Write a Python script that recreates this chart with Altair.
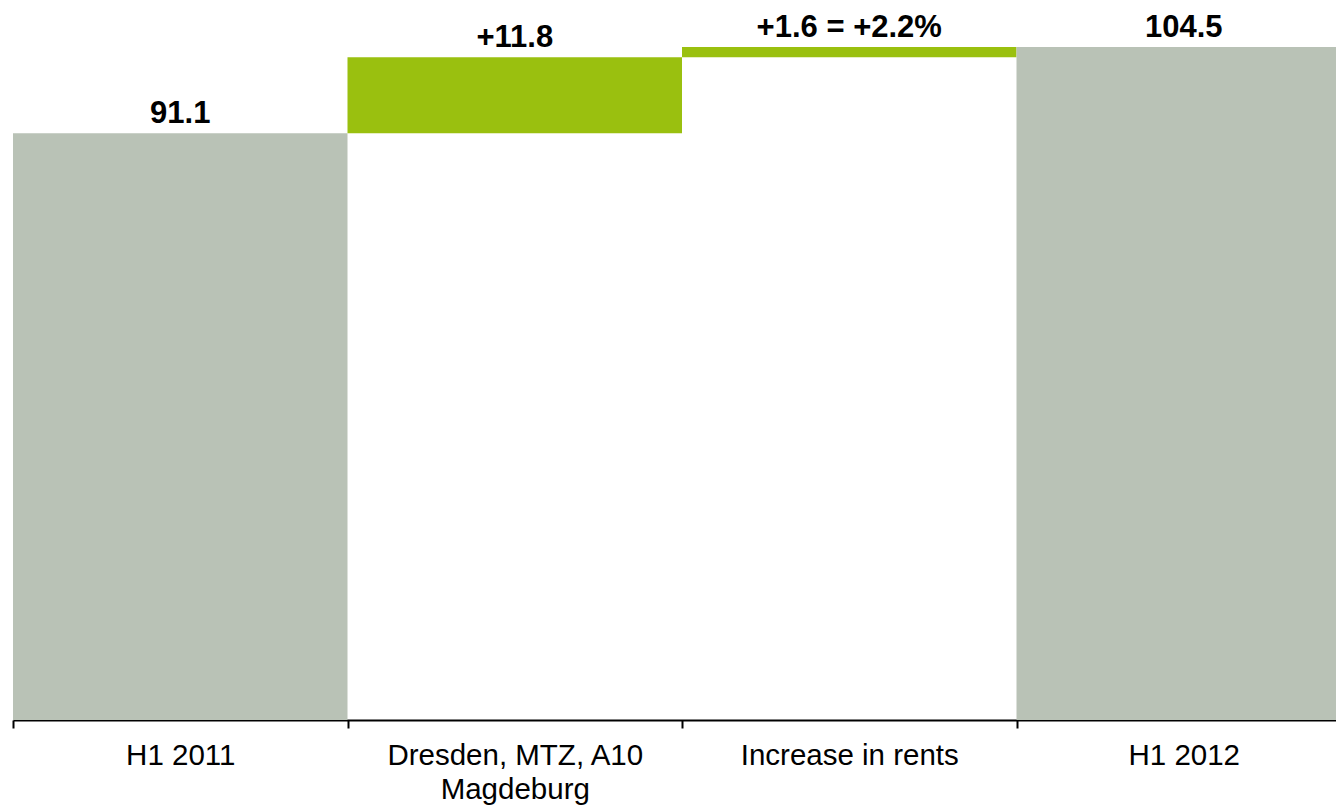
import altair as alt
import pandas as pd

# Waterfall: opening total, two increments, closing total
categories = ["H1 2011", "Dresden, MTZ, A10\nMagdeburg", "Increase in rents", "H1 2012"]
opening = 91.1
increments = [11.8, 1.6]
closing = 104.5
value_labels = ["91.1", "+11.8", "+1.6 = +2.2%", "104.5"]
kinds = ["total", "change", "change", "total"]

starts = [0.0]
ends = [opening]
level = opening
for d in increments:
    starts.append(level)
    level = round(level + d, 1)
    ends.append(level)
starts.append(0.0)
ends.append(closing)

df = pd.DataFrame({
    "category": categories,
    "start": starts,
    "end": ends,
    "label": value_labels,
    "kind": kinds,
})

x = alt.X(
    "category:N",
    sort=categories,
    scale=alt.Scale(range=[0, 1338], paddingInner=0, paddingOuter=0),
    axis=alt.Axis(
        title=None,
        labelAngle=0,
        tickBand="extent",
        domainWidth=2,
        domainColor="black",
        tickColor="black",
        tickWidth=2,
        tickSize=8,
        labelFont="Liberation Sans",
        labelFontSize=29.5,
        labelColor="black",
        labelPadding=13,
        labelLineHeight=34,
        labelBaseline="top",
        labelLimit=0,
        labelExpr="split(datum.label, '\\n')",
        grid=False,
    ),
)

y_scale = alt.Scale(domain=[0, 111.8], nice=False, zero=True)

bars = alt.Chart(df).mark_bar(strokeWidth=0).encode(
    x=x,
    y=alt.Y("start:Q", scale=y_scale, axis=None),
    y2="end:Q",
    color=alt.Color(
        "kind:N",
        scale=alt.Scale(domain=["total", "change"], range=["#B9C2B6", "#9AC00F"]),
        legend=None,
    ),
)

labels = alt.Chart(df).mark_text(
    dy=-10,
    baseline="alphabetic",
    font="Liberation Sans",
    fontWeight="bold",
    fontSize=31,
    color="black",
).encode(
    x=alt.X("category:N", sort=categories),
    y=alt.Y("end:Q", scale=y_scale),
    text="label:N",
)

chart = (
    alt.layer(bars, labels)
    .properties(
        width=1323,
        height=720,
        padding={"left": 13, "top": 0, "right": 0, "bottom": 87},
        autosize="none",
        background="white",
    )
    .configure_view(stroke=None)
)

chart.save("out.html", embed_options={"renderer": "svg", "actions": False})
